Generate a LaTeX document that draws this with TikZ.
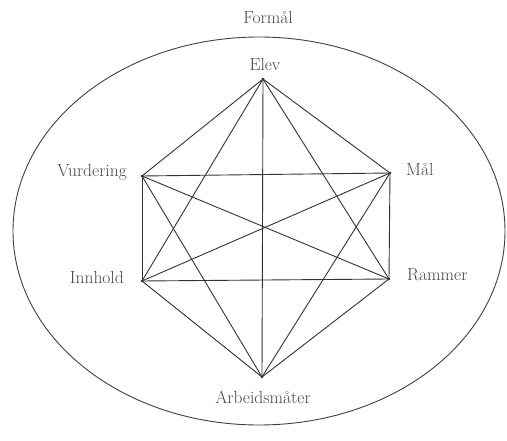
\documentclass[tikz,border=0pt]{standalone}
\usetikzlibrary{calc}
\begin{document}
\begin{tikzpicture}[x=1pt,y=-1pt,
  edge/.style={draw=black!80,line width=0.9pt},
  lbl/.style={text=black!72,font=\fontsize{17.5}{20}\selectfont,inner sep=0pt},
  vtx/.style={circle,fill=black!85,inner sep=0pt,minimum size=2.6pt}]
\useasboundingbox (0,0) rectangle (507,441);
\fill[white] (0,0) rectangle (507,441);
% enclosing ellipse
\draw[black!75,line width=0.9pt] (259,231) ellipse [x radius=246, y radius=194];
% vertices
\node[vtx] (E) at (263,79) {};
\node[vtx] (V) at (142,176) {};
\node[vtx] (M) at (390,173) {};
\node[vtx] (I) at (142,281) {};
\node[vtx] (R) at (389,279) {};
\node[vtx] (A) at (262,377) {};
% labels
\node[lbl] (lF) at (268,17) {Formål};
\node[lbl] (lE) at (265,64) {Elev};
\node[lbl,anchor=east] (lV) at (127,172) {Vurdering};
\node[lbl,anchor=west] (lM) at (406,169) {Mål};
\node[lbl,anchor=east] (lI) at (124,277) {Innhold};
\node[lbl,anchor=west] (lR) at (407,275) {Rammer};
\node[lbl] (lA) at (263,397) {Arbeidsmåter};
% complete graph
\foreach \a/\b in {E/V,E/M,E/I,E/R,E/A,V/M,V/I,V/R,V/A,M/I,M/R,M/A,I/R,I/A,R/A}
  \draw[edge] (\a.center) -- (\b.center);
\end{tikzpicture}
\end{document}
